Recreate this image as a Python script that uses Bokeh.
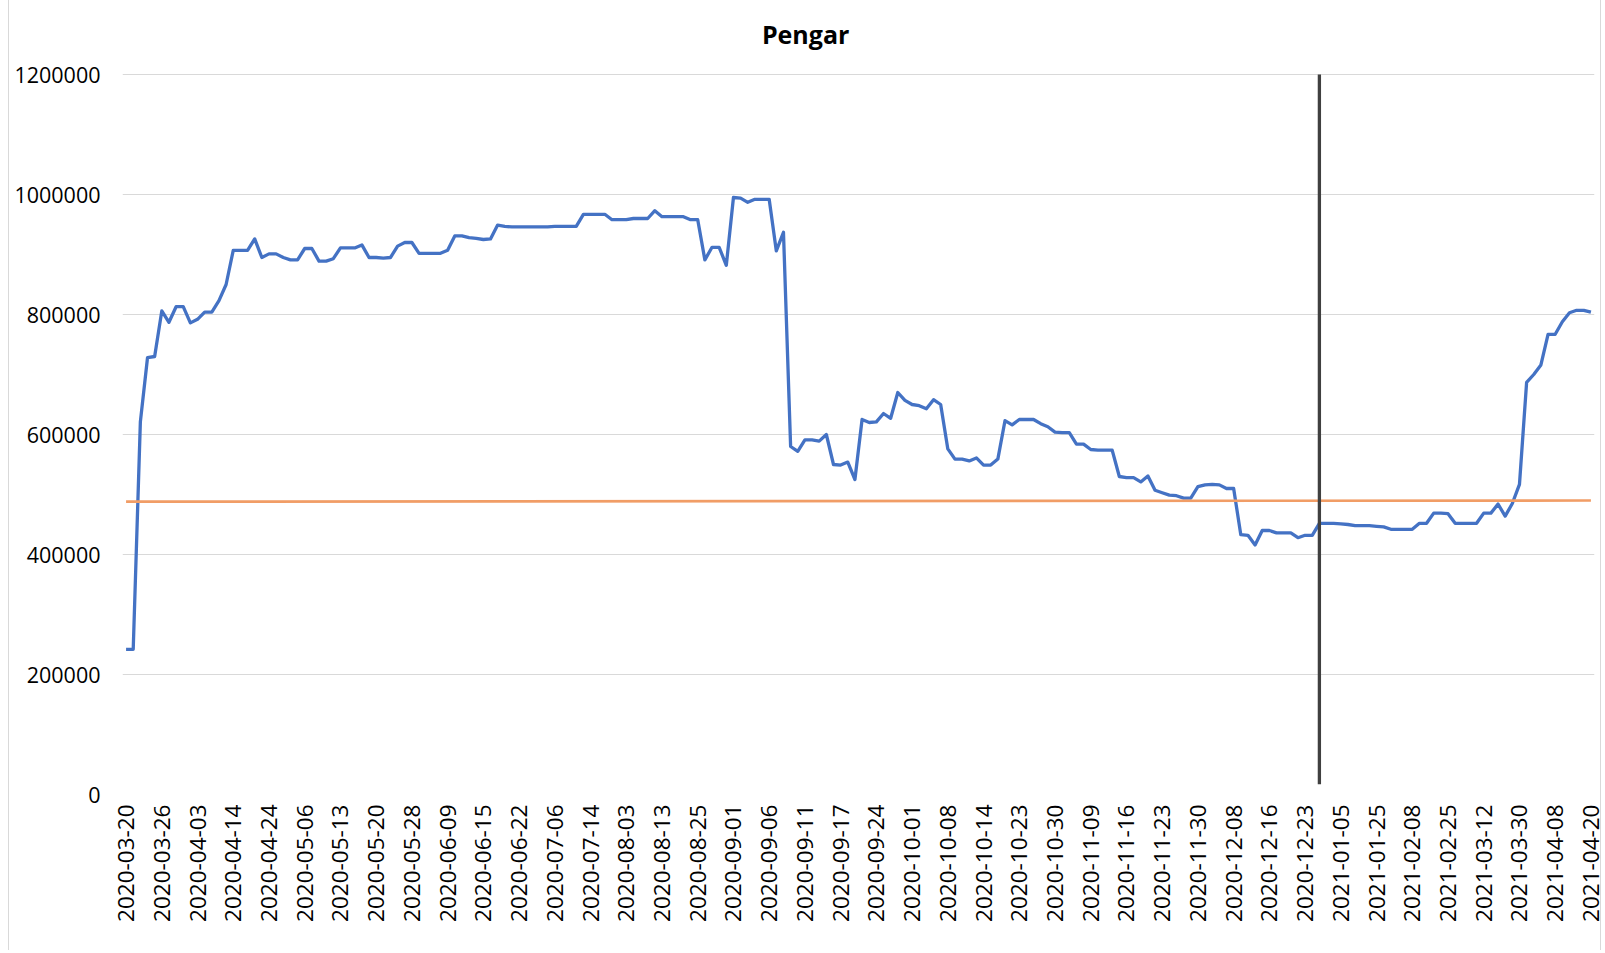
import math
from bokeh.plotting import figure
from bokeh.models import Range1d, FixedTicker, NumeralTickFormatter, ColumnDataSource, Label
from bokeh.embed import file_html
from bokeh.resources import INLINE

# ---------------- data ----------------
title_text = "Pengar"
tick_labels = [
    "2020-03-20", "2020-03-26", "2020-04-03", "2020-04-14", "2020-04-24", "2020-05-06",
    "2020-05-13", "2020-05-20", "2020-05-28", "2020-06-09", "2020-06-15", "2020-06-22",
    "2020-07-06", "2020-07-14", "2020-08-03", "2020-08-13", "2020-08-25", "2020-09-01",
    "2020-09-06", "2020-09-11", "2020-09-17", "2020-09-24", "2020-10-01", "2020-10-08",
    "2020-10-14", "2020-10-23", "2020-10-30", "2020-11-09", "2020-11-16", "2020-11-23",
    "2020-11-30", "2020-12-08", "2020-12-16", "2020-12-23", "2021-01-05", "2021-01-25",
    "2021-02-08", "2021-02-25", "2021-03-12", "2021-03-30", "2021-04-08", "2021-04-20",
]
label_every = 5

pengar = [
    242000, 242000, 621000, 728000, 730000, 806000, 787000, 813000, 813000, 786000,
    792000, 804000, 804000, 823000, 850000, 907000, 907000, 907000, 926000, 895000,
    901000, 901000, 895000, 891000, 891000, 910000, 910000, 889000, 889000, 893000,
    911000, 911000, 911000, 916000, 895000, 895000, 894000, 895000, 914000, 920000,
    920000, 902000, 902000, 902000, 902000, 907000, 931000, 931000, 928000, 927000,
    925000, 926000, 949000, 947000, 946000, 946000, 946000, 946000, 946000, 946000,
    947000, 947000, 947000, 947000, 967000, 967000, 967000, 967000, 958000, 958000,
    958000, 960000, 960000, 960000, 973000, 963000, 963000, 963000, 963000, 958000,
    958000, 891000, 912000, 912000, 882000, 995000, 994000, 987000, 992000, 992000,
    992000, 906000, 937000, 580000, 572000, 591000, 591000, 589000, 600000, 550000,
    549000, 554000, 525000, 625000, 620000, 621000, 635000, 627000, 670000, 657000,
    650000, 648000, 643000, 658000, 650000, 576000, 559000, 559000, 556000, 561000,
    549000, 549000, 559000, 623000, 616000, 625000, 625000, 625000, 618000, 613000,
    604000, 603000, 603000, 584000, 584000, 575000, 574000, 574000, 574000, 530000,
    528000, 528000, 521000, 531000, 507000, 503000, 499000, 498000, 494000, 494000,
    513000, 516000, 517000, 516000, 510000, 510000, 433000, 432000, 416000, 440000,
    440000, 436000, 436000, 436000, 428000, 432000, 432000, 452000, 452000, 452000,
    451000, 450000, 448000, 448000, 448000, 447000, 446000, 442000, 442000, 442000,
    442000, 452000, 452000, 469000, 469000, 468000, 452000, 452000, 452000, 452000,
    469000, 469000, 484000, 464000, 485000, 517000, 687000, 700000, 716000, 767000,
    767000, 788000, 803000, 807000, 807000, 804000,
]

reference_line = [488000, 490000]          # orange line, start and end value
marker_position = 167                       # vertical black marker (category index)
marker_span = [17000, 1200000]
y_ticks = [0, 200000, 400000, 600000, 800000, 1000000, 1200000]

# ---------------- plot ----------------
n = len(pengar)
idx = list(range(n))
y_top = 1300000          # headroom above the last gridline holds the chart title

p = figure(
    width=1593, height=950,
    output_backend="svg", toolbar_location=None,
    x_range=Range1d(-0.5, n - 0.5), y_range=Range1d(y_ticks[0], y_top),
    min_border_left=113, min_border_right=8, min_border_top=14, min_border_bottom=156,
    styles={"margin-left": "8px",
            "border-left": "1px solid #D9D9D9", "border-right": "1px solid #D9D9D9"},
)
p.outline_line_color = None
p.background_fill_color = "white"
p.border_fill_color = "white"

# chart title, centred over the chart area
p.add_layout(Label(x=95.1, y=1266700, text=title_text, text_align="center",
                   text_baseline="middle", text_font="Open Sans", text_font_size="25px",
                   text_font_style="bold", text_color="#000000"))

# grid
p.xgrid.grid_line_color = None
p.ygrid.grid_line_color = "#D9D9D9"
p.ygrid.grid_line_width = 1

# y axis
p.yaxis.ticker = FixedTicker(ticks=y_ticks)
p.yaxis.formatter = NumeralTickFormatter(format="0")
p.yaxis.axis_line_color = None
p.yaxis.major_tick_line_color = None
p.yaxis.minor_tick_line_color = None
p.yaxis.major_tick_out = 0
p.yaxis.major_tick_in = 0
p.yaxis.major_label_text_font = "Open Sans"
p.yaxis.major_label_text_font_size = "21.5px"
p.yaxis.major_label_text_color = "#000000"
p.yaxis.major_label_standoff = 22

# x axis
tick_pos = list(range(0, n, label_every))
p.xaxis.ticker = FixedTicker(ticks=tick_pos)
p.xaxis.major_label_overrides = {t: lab for t, lab in zip(tick_pos, tick_labels)}
p.xaxis.major_label_orientation = math.pi / 2
p.xaxis.axis_line_color = None
p.xaxis.major_tick_line_color = None
p.xaxis.minor_tick_line_color = None
p.xaxis.major_tick_out = 0
p.xaxis.major_tick_in = 0
p.xaxis.major_label_text_font = "Open Sans"
p.xaxis.major_label_text_font_size = "22.5px"
p.xaxis.major_label_text_color = "#000000"
p.xaxis.major_label_standoff = 10

src = ColumnDataSource(dict(x=idx, y=pengar))
p.line("x", "y", source=src, line_color="#4472C4", line_width=3.3, line_join="round")

ref_src = ColumnDataSource(dict(x=[0, n - 1], y=reference_line))
p.line("x", "y", source=ref_src, line_color="#F19D66", line_width=2.7)

mk_src = ColumnDataSource(dict(x0=[marker_position], y0=[marker_span[0]],
                               x1=[marker_position], y1=[marker_span[1]]))
p.segment("x0", "y0", "x1", "y1", source=mk_src, line_color="#404040", line_width=3.3)

open("out.html", "w").write(file_html(p, INLINE))
